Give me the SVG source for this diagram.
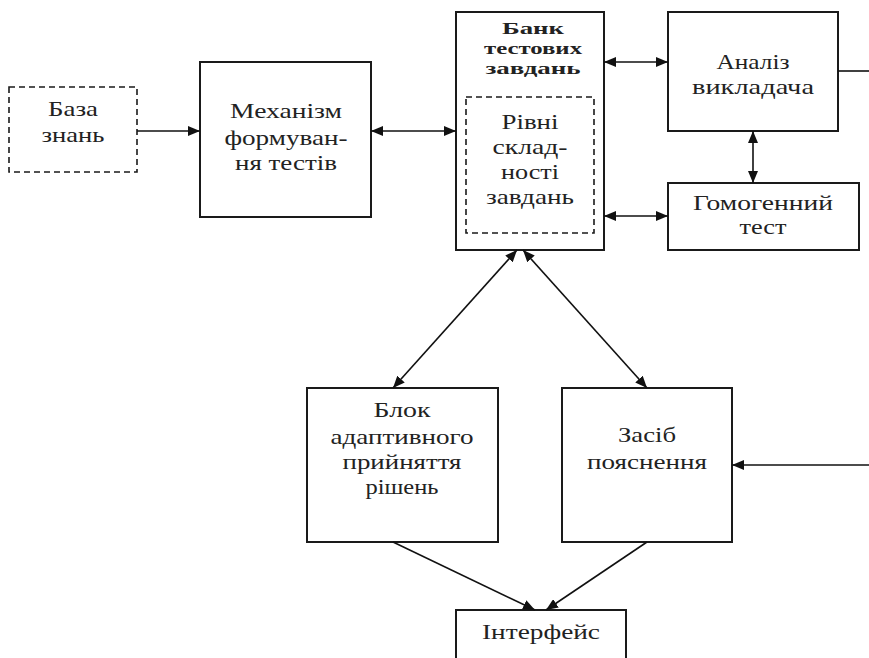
<svg xmlns="http://www.w3.org/2000/svg" width="869" height="658" viewBox="0 0 869 658">
<style>
.box{fill:#fff;stroke:#1a1a1a;stroke-width:2}
.dash{fill:#fff;stroke:#1a1a1a;stroke-width:1.6;stroke-dasharray:6 4}
.t{font-family:'Liberation Serif','Tinos','Times New Roman','Noto Serif','DejaVu Serif',serif;font-size:21px;fill:#222;text-anchor:middle}
.b{font-family:'Liberation Serif','Tinos','Times New Roman','Noto Serif','DejaVu Serif',serif;font-size:17px;font-weight:bold;fill:#222;text-anchor:middle}
.c{stroke:#111;stroke-width:1.6;fill:none}
</style>
<defs>
<marker id="ah" viewBox="0 0 12 10" refX="12" refY="5" markerWidth="12" markerHeight="10" markerUnits="userSpaceOnUse" orient="auto-start-reverse">
<path d="M0,0 L12,5 L0,10 Z" fill="#111"/>
</marker>
</defs>
<g id="baza"><rect class="dash" x="9" y="87" width="128" height="85"/>
<text class="t" x="73" y="116" textLength="50" lengthAdjust="spacingAndGlyphs">База</text><text class="t" x="73" y="142" textLength="63" lengthAdjust="spacingAndGlyphs">знань</text></g>
<g id="mekhanizm"><rect class="box" x="200" y="62" width="171" height="155"/>
<text class="t" x="286" y="118" textLength="112" lengthAdjust="spacingAndGlyphs">Механізм</text><text class="t" x="286" y="145" textLength="123" lengthAdjust="spacingAndGlyphs">формуван-</text><text class="t" x="286" y="170" textLength="102" lengthAdjust="spacingAndGlyphs">ня тестів</text></g>
<g id="bank"><rect class="box" x="456" y="12" width="148" height="238"/>
<text class="b" x="533" y="34" textLength="62" lengthAdjust="spacingAndGlyphs">Банк</text><text class="b" x="533" y="54" textLength="98" lengthAdjust="spacingAndGlyphs">тестових</text><text class="b" x="533" y="74" textLength="95" lengthAdjust="spacingAndGlyphs">завдань</text>
<g id="rivni"><rect class="dash" x="466" y="97" width="128" height="136"/>
<text class="t" x="530" y="129" textLength="57" lengthAdjust="spacingAndGlyphs">Рівні</text><text class="t" x="530" y="154" textLength="75" lengthAdjust="spacingAndGlyphs">склад-</text><text class="t" x="530" y="179" textLength="58" lengthAdjust="spacingAndGlyphs">ності</text><text class="t" x="530" y="204" textLength="88" lengthAdjust="spacingAndGlyphs">завдань</text></g></g>
<g id="analiz"><rect class="box" x="668" y="12" width="170" height="119"/>
<text class="t" x="753" y="69" textLength="73" lengthAdjust="spacingAndGlyphs">Аналіз</text><text class="t" x="753" y="94" textLength="122" lengthAdjust="spacingAndGlyphs">викладача</text></g>
<g id="homog"><rect class="box" x="668" y="183" width="191" height="67"/>
<text class="t" x="763" y="210" textLength="140" lengthAdjust="spacingAndGlyphs">Гомогенний</text><text class="t" x="763" y="234" textLength="47" lengthAdjust="spacingAndGlyphs">тест</text></g>
<g id="blok"><rect class="box" x="307" y="388" width="191" height="154"/>
<text class="t" x="402" y="417" textLength="57" lengthAdjust="spacingAndGlyphs">Блок</text><text class="t" x="402" y="444" textLength="143" lengthAdjust="spacingAndGlyphs">адаптивного</text><text class="t" x="402" y="469" textLength="119" lengthAdjust="spacingAndGlyphs">прийняття</text><text class="t" x="402" y="494" textLength="73" lengthAdjust="spacingAndGlyphs">рішень</text></g>
<g id="zasib"><rect class="box" x="562" y="388" width="170" height="154"/>
<text class="t" x="647" y="442" textLength="58" lengthAdjust="spacingAndGlyphs">Засіб</text><text class="t" x="647" y="469" textLength="120" lengthAdjust="spacingAndGlyphs">пояснення</text></g>
<g id="interfeis"><rect class="box" x="456" y="610" width="170" height="60"/>
<text class="t" x="541" y="639" textLength="118" lengthAdjust="spacingAndGlyphs">Інтерфейс</text></g>
<g id="connectors">
<line class="c" x1="137" y1="131" x2="200" y2="131" marker-end="url(#ah)"/>
<line class="c" x1="371" y1="131" x2="456" y2="131" marker-start="url(#ah)" marker-end="url(#ah)"/>
<line class="c" x1="604" y1="62" x2="668" y2="62" marker-start="url(#ah)" marker-end="url(#ah)"/>
<line class="c" x1="604" y1="216" x2="668" y2="216" marker-start="url(#ah)" marker-end="url(#ah)"/>
<line class="c" x1="753" y1="131" x2="753" y2="183" marker-start="url(#ah)" marker-end="url(#ah)"/>
<line class="c" x1="838" y1="71" x2="869" y2="71"/>
<line class="c" x1="869" y1="465" x2="732" y2="465" marker-end="url(#ah)"/>
<line class="c" x1="517" y1="250" x2="393" y2="388" marker-start="url(#ah)" marker-end="url(#ah)"/>
<line class="c" x1="523" y1="250" x2="647" y2="388" marker-start="url(#ah)" marker-end="url(#ah)"/>
<line class="c" x1="393" y1="542" x2="535" y2="610" marker-end="url(#ah)"/>
<line class="c" x1="647" y1="542" x2="546" y2="610" marker-end="url(#ah)"/>
</g>
</svg>
